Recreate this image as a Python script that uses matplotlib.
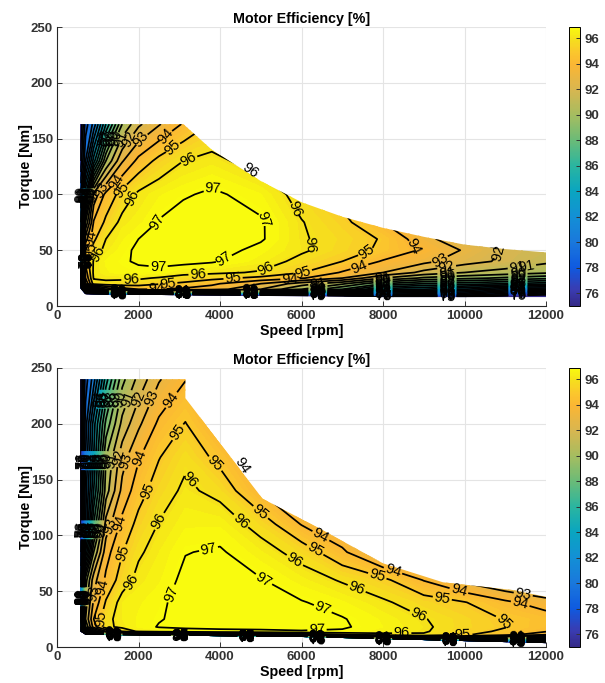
import numpy as np
import matplotlib
matplotlib.use('Agg')
import matplotlib.pyplot as plt
from matplotlib.colors import LinearSegmentedColormap, Normalize
from matplotlib.cm import ScalarMappable
from matplotlib.patches import Polygon

plt.rcParams['font.family'] = ['Liberation Sans', 'DejaVu Sans']

# top map, efficiency [%] per torque row
speed_a = [570, 700, 900, 1200, 1600, 2000, 2500, 3100, 3800, 5000, 6000, 7000, 8000, 9000, 10000, 11000, 12000]
torque_a = [8, 10, 12, 15, 20, 25, 30, 40, 50, 60, 75, 100, 130, 163]
eff_a = [
    [68, 68, 69, 70, 70, 70, 70, 70, 70, 70, 71, 72, 75, 74.5, 75, 72, 70],
    [72, 73, 74, 75, 76, 76, 76, 76, 76, 76, 77, 78, 79.5, 79, 78.5, 77, 75],
    [75, 78, 82, 85, 87, 88, 88.5, 88.5, 88.5, 87, 85, 83, 81.5, 81, 80.5, 78.5, 77],
    [76, 84, 89, 92, 93.5, 94, 94, 93.8, 93.5, 92, 90, 88, 84.5, 84, 83, 81.5, 81],
    [77, 92, 95.5, 95.7, 95.6, 95.5, 95.1, 94.8, 94.2, 93, 91.5, 90.2, 88, 87, 86.5, 86, 85.5],
    [78, 93, 96.1, 96.2, 96.2, 96.15, 95.9, 95.6, 95.3, 94.7, 94.1, 93, 91, 89.8, 89.3, 88.8, 88.3],
    [79, 93.5, 96.2, 96.6, 96.8, 96.9, 96.8, 96.3, 96.2, 95.9, 95.05, 93.9, 93, 91.7, 91, 90.6, 90.2],
    [80, 94.3, 96.1, 96.7, 96.95, 97.05, 97.2, 97.3, 97.1, 96.5, 95.7, 95, 93.9, 93.3, 92.4, 91.8, 91.2],
    [81, 94, 95.4, 96.3, 96.8, 97.15, 97.35, 97.45, 97.4, 96.75, 96.15, 95.5, 94.8, 93.85, 92.9, 91.9, 91.5],
    [82, 92.5, 94.8, 96, 96.6, 97, 97.3, 97.5, 97.5, 97.1, 96.1, 95.6, 94.9, 93.4, 92.1, 91.2, 90.5],
    [81, 90, 94.1, 95.2, 96.3, 96.55, 97.05, 97.4, 97.5, 97.1, 96.05, 95.3, 94, 93, 91, 90.2, 89.6],
    [79, 85, 92.3, 94.3, 95.4, 96.2, 96.6, 96.9, 97.15, 96.67, 95.6, 94.6, 93.5, 92.5, 90.5, 89.5, 89],
    [76, 80, 84.5, 90, 92.9, 94.3, 95.3, 96, 96.3, 95.5, 94.5, 93.5, 92.5, 91.5, 90, 89, 88.5],
    [75, 78.5, 80.3, 85, 90, 91.8, 92.9, 94.1, 95.1, 94, 93, 92, 91, 90, 89, 88, 87.5],
]
limit_speed_a = [570, 700, 3100, 3100, 3800, 5000, 6000, 7000, 8000, 9000, 10000, 11000, 12000, 12000, 8000, 700, 570]
limit_torque_a = [163, 163, 163, 163, 140, 112, 93, 80, 70, 62, 55, 51, 48, 8, 8, 10.5, 16]

# bottom map
speed_b = [570, 700, 900, 1200, 1600, 2000, 2500, 3150, 4000, 5000, 6000, 7000, 8000, 9000, 10000, 11000, 12000]
torque_b = [3, 5, 8, 11, 14, 18, 25, 40, 60, 85, 110, 140, 170, 200, 240]
eff_b = [
    [65, 65, 65, 65, 65, 65, 65, 65, 65, 65, 66, 68, 70, 70, 70, 72, 74],
    [66, 66, 66, 66, 66, 66, 66, 66, 67, 68, 70, 72, 75, 76, 77, 79, 82],
    [68, 68, 69, 70, 70, 70, 71, 72, 73, 75, 80, 85, 90, 92, 92, 90, 88],
    [70, 75, 80, 85, 88, 90, 91, 92, 93, 93.5, 94, 94.8, 95.6, 95.9, 95.1, 94.5, 93],
    [75, 84, 90, 93, 95, 96.2, 96.5, 96.6, 96.7, 96.8, 96.95, 96.9, 96.5, 96.1, 95.4, 94.8, 94.1],
    [79, 90, 93.5, 95.7, 96.3, 96.7, 97.05, 97.2, 97.3, 97.3, 97.2, 97.1, 96.65, 96.15, 95.5, 95.05, 94.4],
    [80, 91, 94, 95.7, 96.4, 96.7, 96.95, 97.2, 97.4, 97.4, 97.3, 97.05, 96.6, 96.05, 95.5, 94.95, 94.5],
    [80, 90.5, 93.2, 95.1, 96.4, 96.6, 96.85, 97.3, 97.5, 97.35, 97.05, 96.7, 96.15, 95.5, 95.05, 94.2, 93.5],
    [79, 89.5, 92.6, 94.2, 95.5, 96.3, 96.6, 97.2, 97.5, 97.05, 96.5, 95.9, 95.25, 93.95, 92.7, 91.8, 91],
    [77, 84, 90, 93.6, 94.95, 95.85, 96.4, 96.97, 97.1, 96.45, 95.6, 94.2, 92.5, 91.5, 90.5, 89.5, 88.5],
    [75, 81, 87, 92.4, 94.3, 95.3, 96.05, 96.6, 96.6, 95.6, 93.95, 93, 92, 91, 90, 89, 88],
    [75, 80.5, 85, 90.5, 93.3, 94.6, 95.5, 96.2, 95.7, 93.9, 92, 91, 90, 89, 88, 87, 86],
    [75, 80, 84, 90, 92.6, 93.9, 94.95, 95.8, 94.65, 93, 92, 91, 90, 89, 88, 87, 86],
    [74.5, 79.5, 83.5, 88.3, 91.3, 92.8, 94.2, 95.05, 93.5, 92, 91, 90, 89, 88, 87, 86, 85],
    [74.5, 78.5, 80.5, 85.5, 89.7, 91.3, 92.9, 93.95, 92.5, 91, 90, 89, 88, 87, 86, 85, 84],
]
limit_speed_b = [570, 700, 3150, 3150, 5040, 6450, 8000, 9470, 11190, 12000, 12000, 6000, 700, 570]
limit_torque_b = [240, 240, 240, 223, 133, 106, 75, 58, 51, 45, 3.5, 9, 11, 14]

levels = list(range(75, 98))
clim = (75, 96.9)
cmap_values = [75, 76.2, 78, 80, 82, 84, 86, 88, 90, 92, 94, 95, 96, 96.9]
cmap_colors = ['#352a87', '#3a3bb0', '#0f5ae0', '#1a78dc', '#1390d5', '#0aa5c0', '#2ab5a0',
               '#6abb78', '#a5bd60', '#d8b650', '#fbb634', '#fbc82c', '#f5e01c', '#f9fb0e']
parula = LinearSegmentedColormap.from_list(
    'parula', [((v - clim[0]) / (clim[1] - clim[0]), c) for v, c in zip(cmap_values, cmap_colors)])

# where the contour labels sit: (level, speed, torque)
labels_a = [
    (97, 2450, 75), (97, 3830, 106), (97, 5150, 78), (97, 4170, 40), (97, 2500, 38),
    (96, 3220, 132), (96, 4660, 119), (96, 6040, 89), (96, 1940, 96), (96, 1030, 46),
    (96, 1815, 23), (96, 3460, 29), (96, 5060, 36), (96, 6500, 55),
    (95, 2800, 143), (95, 1600, 104), (95, 785, 50), (95, 2720, 20), (95, 4320, 25),
    (95, 6040, 30), (95, 7600, 48),
    (94, 2600, 154), (94, 1420, 112), (94, 736, 61), (94, 2450, 16), (94, 5720, 23),
    (94, 7440, 34), (94, 8860, 55),
    (93, 2040, 150), (93, 1130, 104), (93, 9470, 39),
    (92, 1720, 150), (92, 11120, 44), (92, 9570, 34), (91, 11290, 35),
]
labels_b = [
    (97, 3700, 91), (97, 5100, 62), (97, 2870, 47), (97, 6530, 35), (97, 6380, 16),
    (96, 3340, 152), (96, 2450, 114), (96, 1840, 58), (96, 4540, 114), (96, 5840, 78),
    (96, 7360, 53), (96, 8900, 31), (96, 8460, 11),
    (95, 2940, 193), (95, 2160, 141), (95, 1620, 84), (95, 1055, 26), (95, 3930, 166),
    (95, 5050, 123), (95, 6380, 90), (95, 7870, 65), (95, 9470, 47), (95, 11000, 24),
    (95, 9960, 10),
    (94, 2820, 221), (94, 2040, 169), (94, 1500, 111), (94, 1100, 54), (94, 4440, 160),
    (94, 6450, 98), (94, 8250, 69), (94, 9890, 54), (94, 11360, 38),
    (93, 2330, 223), (93, 1720, 166), (93, 1250, 109), (93, 880, 48), (93, 11440, 47),
    (92, 1960, 223), (92, 1450, 170),
]
# MATLAB stacks its inline labels in columns and rows: speed columns, (torque, lowest level) rows
columns_a = [1500, 3090, 4740, 6400, 8000, 9570, 11310]
rows_a = [(150, 86), (100, 75), (40, 75)]
columns_b = [1380, 3020, 4660, 6380, 8000, 9640, 11290]
rows_b = [(222, 84), (167, 75), (105, 75), (45, 75)]
stack_top = 91


def first_crossing(grid, values, lev):
    # first place along the grid where values reach lev, None if they never do
    for i in range(1, len(values)):
        if values[i - 1] < lev <= values[i]:
            return np.interp(lev, [values[i - 1], values[i]], [grid[i - 1], grid[i]])
    return None


def stack_spots(speed, torque, z, lev, columns, rows):
    spots = []
    for s in columns:
        col = [np.interp(s, speed, row) for row in z]
        T = first_crossing(torque, col, lev)
        if T is not None:
            spots.append((s, T))
    for T, lowest in rows:
        if lev < lowest:
            continue
        row = [np.interp(T, torque, z[:, j]) for j in range(z.shape[1])]
        s = first_crossing(speed, row, lev)
        if s is not None:
            spots.append((s, T))
    return spots


def draw_map(ax, cax, speed, torque, eff, lim_speed, lim_torque, labels, columns, rows):
    z = np.array(eff, dtype=float)
    edge = Polygon(np.column_stack([lim_speed, lim_torque]), closed=True,
                   transform=ax.transData, fc='none', ec='none')
    ax.add_patch(edge)
    fill = ax.contourf(speed, torque, z, levels=np.linspace(clim[0], clim[1], 90),
                       cmap=parula, norm=Normalize(*clim), extend='both')
    fill.set_clip_path(edge)
    # one contour set per level, clabel(manual=...) can then pick the right line
    for lev in levels:
        cs = ax.contour(speed, torque, z, levels=[lev], colors='k', linewidths=1.25)
        spots = [(s, T) for l, s, T in labels if l == lev]
        if lev <= stack_top:
            spots += stack_spots(speed, torque, z, lev, columns, rows)
        if spots:
            cs.clabel(manual=spots, fmt='%d', fontsize=10.5, inline=True, inline_spacing=2)
        cs.set_clip_path(edge)

    ax.set_xlim(0, 12000)
    ax.set_ylim(0, 250)
    ax.set_xticks(range(0, 12001, 2000))
    ax.set_yticks(range(0, 251, 50))
    ax.grid(True, color='#e4e4e4', lw=0.8)
    ax.set_axisbelow(True)
    ax.spines['top'].set_visible(False)
    ax.spines['right'].set_visible(False)
    ax.spines['left'].set_color('#262626')
    ax.spines['bottom'].set_color('#262626')
    ax.tick_params(direction='in', length=3.6, width=0.7, labelsize=9.5, colors='#333333', pad=3)
    plt.setp(ax.get_xticklabels() + ax.get_yticklabels(), fontweight='bold')
    ax.set_xlabel('Speed [rpm]', fontweight='bold', fontsize=10.3, labelpad=1)
    ax.set_ylabel('Torque [Nm]', fontweight='bold', fontsize=10.3, labelpad=-2)
    ax.set_title('Motor Efficiency [%]', fontweight='bold', fontsize=10.3, pad=3)

    cb = plt.colorbar(ScalarMappable(Normalize(*clim), parula), cax=cax)
    cb.set_ticks(range(76, 97, 2))
    cb.ax.tick_params(direction='in', length=3, width=0.7, labelsize=9.5, colors='#333333', pad=3)
    plt.setp(cb.ax.get_yticklabels(), fontweight='bold')
    cb.outline.set_linewidth(0.7)


W, H = 605, 683
fig = plt.figure(figsize=(W / 100, H / 100), dpi=100)
for top, bottom, data in [
    (27, 306, (speed_a, torque_a, eff_a, limit_speed_a, limit_torque_a, labels_a, columns_a, rows_a)),
    (368, 647, (speed_b, torque_b, eff_b, limit_speed_b, limit_torque_b, labels_b, columns_b, rows_b)),
]:
    ax = fig.add_axes([57 / W, 1 - bottom / H, 489 / W, (bottom - top) / H])
    cax = fig.add_axes([569 / W, 1 - bottom / H, 11 / W, (bottom - top) / H])
    draw_map(ax, cax, *data)

fig.savefig('out.png', dpi=100)
